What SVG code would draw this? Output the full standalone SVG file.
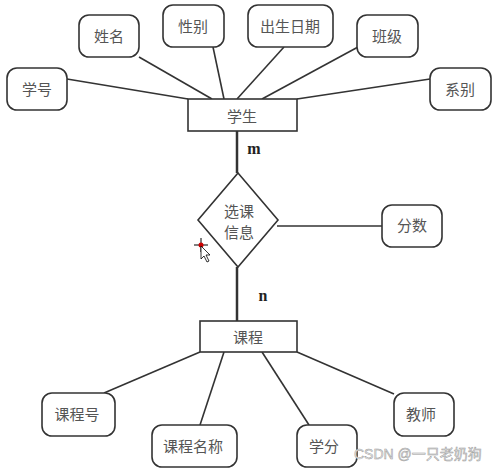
<svg xmlns="http://www.w3.org/2000/svg" width="498" height="472" viewBox="0 0 498 472">
<style>
.a{fill:#fff;stroke:#333;stroke-width:1.6}
.t{font-family:"Noto Sans CJK SC","Noto Sans",sans-serif;font-size:15px;fill:#555;text-anchor:middle;dominant-baseline:central}
.c line{stroke:#333;stroke-width:1.6}
.lb{font-family:"Liberation Serif",serif;font-weight:bold;font-size:16px;fill:#222}
</style>
<rect width="498" height="472" fill="#fff"/>
<g class="c" id="connectors">
<line x1="67" y1="79" x2="188" y2="99"/>
<line x1="139" y1="57" x2="212" y2="99"/>
<line x1="213" y1="47" x2="224" y2="99"/>
<line x1="284" y1="47" x2="237" y2="99"/>
<line x1="358" y1="47" x2="262" y2="99"/>
<line x1="430" y1="79" x2="297" y2="99"/>
<line x1="237" y1="131" x2="237" y2="173" style="stroke-width:2.5"/>
<line x1="277" y1="226" x2="382" y2="226"/>
<line x1="237" y1="267" x2="237" y2="321" style="stroke-width:2.5"/>
<line x1="200" y1="352" x2="104" y2="393"/>
<line x1="224" y1="352" x2="200" y2="425"/>
<line x1="262" y1="352" x2="309" y2="425"/>
<line x1="297" y1="352" x2="394" y2="394"/>
<text class="lb" x="254" y="154" text-anchor="middle">m</text>
<text class="lb" x="263" y="301" text-anchor="middle">n</text>
</g>
<g id="xuehao"><rect class="a" x="7" y="68" width="60" height="42" rx="10"/><text class="t" x="37" y="88">学号</text></g>
<g id="xingming"><rect class="a" x="79" y="15" width="60" height="42" rx="10"/><text class="t" x="109" y="35">姓名</text></g>
<g id="xingbie"><rect class="a" x="163" y="5" width="61" height="42" rx="10"/><text class="t" x="193" y="25">性别</text></g>
<g id="chusheng"><rect class="a" x="248" y="5" width="85" height="42" rx="10"/><text class="t" x="290" y="25">出生日期</text></g>
<g id="banji"><rect class="a" x="357" y="15" width="61" height="42" rx="10"/><text class="t" x="387" y="35">班级</text></g>
<g id="xibie"><rect class="a" x="430" y="68" width="61" height="42" rx="10"/><text class="t" x="460" y="88">系别</text></g>
<g id="xuesheng"><rect class="a" x="188" y="99" width="109" height="32"/><text class="t" x="242" y="115">学生</text></g>
<g id="xuanke"><polygon class="a" points="238,173 278,220 238,267 198,220"/><text class="t" x="239" y="210">选课</text><text class="t" x="239" y="231">信息</text></g>
<g id="fenshu"><rect class="a" x="382" y="205" width="60" height="42" rx="10"/><text class="t" x="412" y="224">分数</text></g>
<g id="kecheng"><rect class="a" x="200" y="321" width="97" height="31"/><text class="t" x="248" y="336">课程</text></g>
<g id="kechenghao"><rect class="a" x="42" y="393" width="73" height="43" rx="10"/><text class="t" x="77" y="413">课程号</text></g>
<g id="kechengmingcheng"><rect class="a" x="152" y="425" width="85" height="42" rx="10"/><text class="t" x="193" y="445">课程名称</text></g>
<g id="xuefen"><rect class="a" x="297" y="425" width="60" height="42" rx="10"/><text class="t" x="324" y="445">学分</text></g>
<g id="jiaoshi"><rect class="a" x="394" y="393" width="60" height="43" rx="10"/><text class="t" x="421" y="413">教师</text></g>
<g id="cursor">
<line x1="194" y1="245" x2="208" y2="245" stroke="#000" stroke-width="1"/>
<line x1="201" y1="238" x2="201" y2="252" stroke="#000" stroke-width="1"/>
<circle cx="201" cy="245" r="2.5" fill="#c00"/>
<path d="M201,246 L201,259 L204,256 L207,262 L209,261 L206,255 L210,255 Z" fill="#fff" stroke="#000" stroke-width="0.8"/>
</g>
<text x="354" y="459" font-family="Liberation Sans,'Noto Sans CJK SC',sans-serif" font-size="14" fill="#eee" stroke="#999" stroke-width="0.5">CSDN @一只老奶狗</text>
</svg>
